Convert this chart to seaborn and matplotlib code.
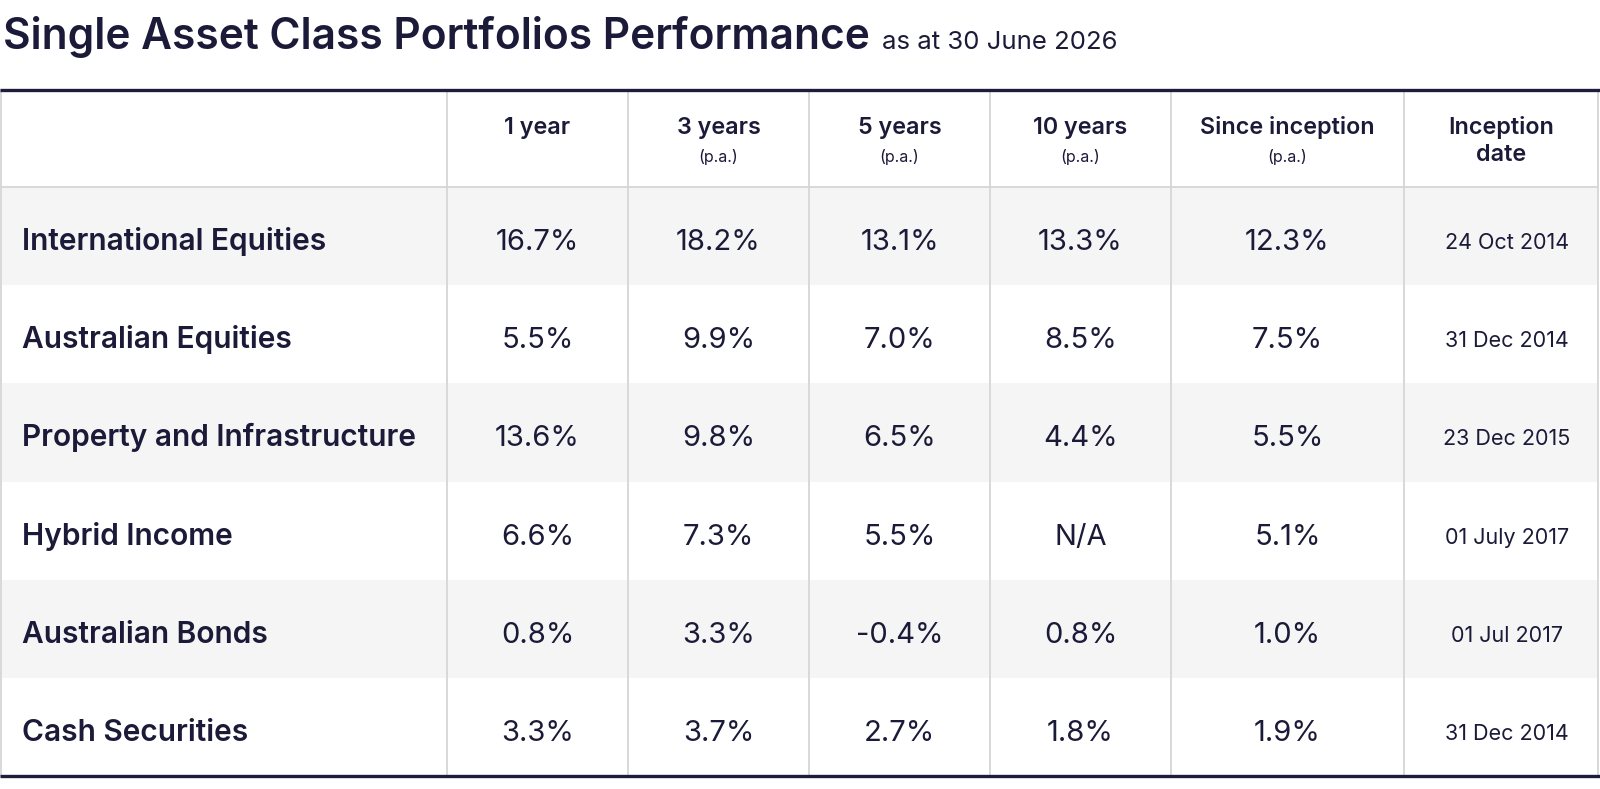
import matplotlib
matplotlib.use("Agg")
import matplotlib.pyplot as plt
import seaborn as sns

sns.set_theme(style="white")
FONT = ["Inter", "DejaVu Sans"]
plt.rcParams["font.family"] = FONT

title = "Single Asset Class Portfolios Performance"
subtitle = "as at 30 June 2026"
col_heads = ["1 year", "3 years", "5 years", "10 years", "Since inception", "Inception\ndate"]
col_subs = ["", "(p.a.)", "(p.a.)", "(p.a.)", "(p.a.)", ""]
portfolios = ["International Equities", "Australian Equities", "Property and Infrastructure",
              "Hybrid Income", "Australian Bonds", "Cash Securities"]
one_year = ["16.7%", "5.5%", "13.6%", "6.6%", "0.8%", "3.3%"]
three_years = ["18.2%", "9.9%", "9.8%", "7.3%", "3.3%", "3.7%"]
five_years = ["13.1%", "7.0%", "6.5%", "5.5%", "-0.4%", "2.7%"]
ten_years = ["13.3%", "8.5%", "4.4%", "N/A", "0.8%", "1.8%"]
since_inception = ["12.3%", "7.5%", "5.5%", "5.1%", "1.0%", "1.9%"]
inception_date = ["24 Oct 2014", "31 Dec 2014", "23 Dec 2015", "01 July 2017", "01 Jul 2017", "31 Dec 2014"]

value_cols = [one_year, three_years, five_years, ten_years, since_inception]

W, H = 1600, 789
fig = plt.figure(figsize=(W / 100, H / 100), dpi=100)
ax = fig.add_axes([0, 0, 1, 1])
ax.set_xlim(0, W)
ax.set_ylim(H, 0)
ax.axis("off")

TXT = "#1b1a38"
NAVY = "#1d1c3c"
GRID = "#d6d6d6"
STRIPE = "#f5f5f5"

col_edges = [1, 447, 628, 809, 990, 1171, 1404, 1598]
top, head_bot, bottom = 90, 187, 776
n = len(portfolios)
row_h = (bottom - head_bot) / n

# row stripes
for i in range(n):
    y0 = head_bot + i * row_h
    color = STRIPE if i % 2 == 0 else "white"
    ax.barh(y0 + row_h / 2, col_edges[-1] - col_edges[0], left=col_edges[0],
            height=row_h, color=color, linewidth=0, zorder=1)

# vertical grid lines
for x in col_edges:
    ax.plot([x, x], [top, bottom], color=GRID, lw=1.3, zorder=2)
ax.plot([col_edges[0], col_edges[-1]], [head_bot, head_bot], color=GRID, lw=1.3, zorder=2)
# dark rules
ax.plot([0, W], [top, top], color=NAVY, lw=2.4, zorder=3, solid_capstyle="butt")
ax.plot([0, W], [bottom, bottom], color=NAVY, lw=2.4, zorder=3, solid_capstyle="butt")

# title
t = ax.text(3, 49, title, fontsize=30.5, fontweight="semibold", color=TXT, va="baseline", ha="left")
fig.canvas.draw()
bb = t.get_window_extent(renderer=fig.canvas.get_renderer())
ax.text(bb.x1 + 12, 49, subtitle, fontsize=18.5, color=TXT, va="baseline", ha="left")

# headers
HFS = 16.8
for j, (h, s) in enumerate(zip(col_heads, col_subs)):
    cx = (col_edges[j + 1] + col_edges[j + 2]) / 2
    lines = h.split("\n")
    ax.text(cx, 134, lines[0], fontsize=HFS, fontweight="semibold", color=TXT, ha="center", va="baseline")
    if len(lines) > 1:
        ax.text(cx, 161, lines[1], fontsize=HFS, fontweight="semibold", color=TXT, ha="center", va="baseline")
    if s:
        ax.text(cx, 162, s, fontsize=11.5, color=TXT, ha="center", va="baseline")

# body
for i, name in enumerate(portfolios):
    cy = head_bot + i * row_h + row_h / 2
    base = cy + 14
    ax.text(22, base, name, fontsize=21.5, fontweight="semibold", color=TXT, ha="left", va="baseline")
    for j, col in enumerate(value_cols):
        cx = (col_edges[j + 1] + col_edges[j + 2]) / 2
        ax.text(cx, base, col[i], fontsize=21, color=TXT, ha="center", va="baseline")
    cx = (col_edges[6] + col_edges[7]) / 2 + 6
    ax.text(cx, base - 1, inception_date[i], fontsize=15.5, color=TXT, ha="center", va="baseline")

fig.savefig("out.png", dpi=100, facecolor="white")
